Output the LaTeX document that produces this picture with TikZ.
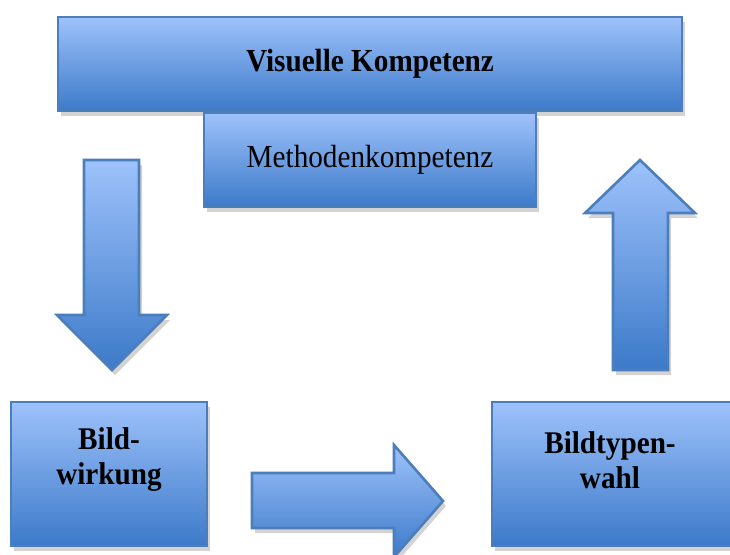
\documentclass[tikz,border=0pt]{standalone}
\usepackage{fontspec}
\setmainfont{Liberation Serif}
\usetikzlibrary{shadows}

\definecolor{boxtop}{RGB}{158,194,251}
\definecolor{boxbot}{RGB}{60,122,201}
\definecolor{boxline}{RGB}{76,126,188}

\tikzset{
  panel/.style={draw=boxline, line width=1.3pt, top color=boxtop, bottom color=boxbot,
    drop shadow={opacity=0.35, shadow xshift=1.5pt, shadow yshift=-2.5pt},
    inner sep=0pt, align=center},
  flow/.style={draw=boxline, line width=1.3pt, line join=miter, top color=boxtop, bottom color=boxbot,
    drop shadow={opacity=0.35, shadow xshift=1.5pt, shadow yshift=-2.5pt}},
  bigtext/.style={font=\fontsize{14.6pt}{17.5pt}\selectfont\bfseries, align=center},
  plaintext/.style={font=\fontsize{14.6pt}{17.5pt}\selectfont, align=center}
}

\begin{document}
\begin{tikzpicture}[x=0.5pt,y=-0.5pt]
\useasboundingbox (0,0) rectangle (730,554);
\clip (0,0) rectangle (730,554);

% the two competence boxes on top
\node[panel, bigtext, minimum width=312pt, minimum height=47pt] (vk) at (370,64) {\scalebox{1}[1.1]{Visuelle Kompetenz}};
\node[panel, plaintext, minimum width=166pt, minimum height=47pt] (mk) at (370,160) {\scalebox{1}[1.1]{Methodenkompetenz}};

% the two boxes at the bottom
\node[panel, minimum width=98pt, minimum height=72pt] (bw) at (109,474) {};
\node[bigtext] (bwtext) at (109,460) {\scalebox{1}[1.08]{Bild-}\\\scalebox{1}[1.08]{wirkung}};
\node[panel, minimum width=121.5pt, minimum height=72pt] (bt) at (613.5,474) {};
\node[bigtext] (bttext) at (610,460) {\scalebox{1}[1.08]{Bildtypen-}\\\scalebox{1}[1.08]{wahl}};

% block arrows
\draw[flow] (84,160) -- (139,160) -- (139,315) -- (167,315) -- (112,370) -- (57,315) -- (84,315) -- cycle;
\draw[flow] (252,473) -- (394,473) -- (394,445) -- (443,501) -- (394,557) -- (394,528) -- (252,528) -- cycle;
\draw[flow] (613,370) -- (613,213) -- (585,213) -- (640,160) -- (695,213) -- (668,213) -- (668,370) -- cycle;
\end{tikzpicture}
\end{document}
